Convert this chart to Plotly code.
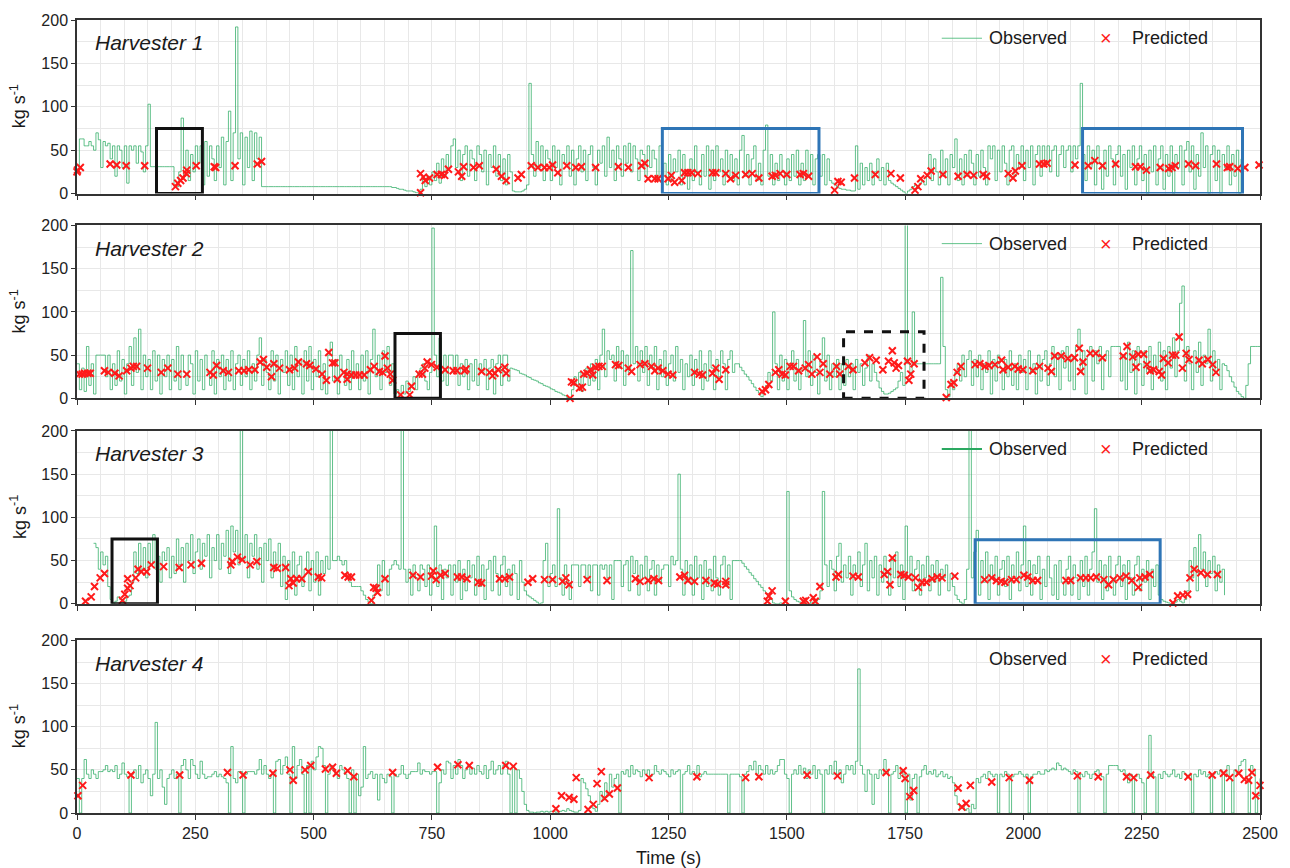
import plotly.graph_objects as go

# ---------------- data ----------------
T_STEP = 5  # sampling interval of the observed series (s)

obs1 = [
    25,63,63,55,55,60,55,50,70,62,30,60,55,58,40,55,20,55,50,30,
    55,12,55,50,55,35,55,48,25,55,103,31,31,31,31,31,31,31,31,31,
    31,8,8,25,87,20,50,15,45,25,55,35,55,10,60,20,55,40,15,55,
    30,65,10,60,95,15,70,192,40,70,10,65,30,72,15,70,40,65,8,8,
    8,8,8,8,8,8,8,8,8,8,8,8,8,8,8,8,8,8,8,8,
    8,8,8,8,8,8,8,8,8,8,8,8,8,8,8,8,8,8,8,8,
    8,8,8,8,8,8,8,8,8,8,8,8,8,7,7,6,5,5,4,3,
    3,3,2,1,1,5,18,8,20,10,25,15,35,12,40,20,45,30,55,63,
    30,50,15,45,55,20,50,40,15,55,45,25,50,10,45,30,55,20,45,15,
    40,10,45,25,3,2,2,2,3,5,10,127,45,20,60,30,55,15,50,40,
    15,55,30,50,10,45,35,55,20,50,10,40,55,25,50,15,45,55,30,10,
    50,35,55,20,65,30,50,15,55,40,20,55,35,58,25,55,40,15,50,45,
    20,55,30,50,40,15,55,20,35,10,45,15,40,25,50,10,45,20,5,40,
    15,55,25,10,45,20,55,5,50,15,55,25,40,10,50,20,45,15,40,10,
    50,67,20,45,10,40,55,15,35,10,50,79,20,45,10,35,15,45,25,10,
    40,15,45,20,50,10,35,15,50,20,45,10,40,45,20,45,10,40,15,12,
    10,8,6,5,5,4,4,3,3,55,5,35,10,30,15,35,10,25,40,15,
    30,10,35,15,12,10,8,6,4,2,0,3,5,8,10,6,12,15,10,20,
    45,15,40,25,10,50,20,40,10,45,30,63,15,40,10,45,20,50,35,10,
    45,20,50,30,10,55,40,55,15,50,25,55,35,10,50,55,20,45,30,55,
    15,50,30,55,10,45,55,20,55,35,55,25,50,55,20,45,55,30,50,55,
    25,55,40,55,127,45,15,55,30,50,10,55,35,5,50,20,55,40,10,45,
    55,20,45,5,50,30,55,10,40,55,15,45,0,50,25,55,10,40,55,5,
    45,20,55,0,45,30,55,10,50,60,25,55,5,45,20,70,30,55,0,45,
    55,15,50,0,45,30,55,10,45,20,50,0,40,None,None,None,None,None,None,None,
    None,
]

obs2 = [
    40,10,35,8,60,15,40,5,50,50,50,50,25,50,10,40,15,55,20,45,
    5,40,60,15,70,30,80,10,50,25,45,10,55,20,50,5,45,25,50,10,
    45,20,60,10,50,30,15,50,40,5,55,20,45,10,50,30,15,55,5,45,
    25,50,10,45,20,55,10,40,50,15,45,25,55,10,40,20,50,70,15,45,
    30,10,55,20,50,5,45,30,55,15,50,10,60,25,45,5,55,20,60,10,
    45,25,55,10,40,5,50,65,20,45,5,50,30,15,45,10,55,25,40,10,
    50,20,55,5,45,80,25,50,10,55,30,60,15,40,5,10,3,15,5,20,
    8,15,25,10,30,35,40,20,10,30,197,50,25,70,20,50,15,50,50,30,
    50,15,40,25,45,10,40,20,45,15,40,30,45,10,35,45,5,40,50,15,
    50,50,20,35,34,33,32,29,28,27,25,24,22,21,20,18,17,15,14,13,
    11,10,8,7,6,4,3,1,0,10,25,15,30,8,25,35,15,40,20,45,
    10,50,80,25,55,45,50,20,60,35,55,15,50,30,171,40,60,20,55,30,
    60,15,50,35,60,10,45,25,55,15,40,50,20,60,30,45,10,40,25,50,
    15,45,30,55,10,40,20,55,35,10,45,25,55,40,10,45,55,30,40,40,
    36,32,28,25,21,17,13,9,6,2,10,15,30,20,100,40,10,50,20,45,
    10,40,55,20,45,10,35,90,25,55,15,50,30,5,45,70,20,50,10,40,
    25,45,10,40,15,45,25,40,10,45,30,40,15,35,50,20,40,30,20,12,
    8,5,5,6,8,10,12,20,30,15,230,40,30,100,40,40,40,40,40,40,
    40,40,40,40,40,140,60,10,2,20,10,30,40,20,50,25,45,55,15,45,
    25,50,10,40,30,55,5,45,20,50,35,10,45,25,55,15,40,10,50,30,
    45,10,55,30,40,5,50,20,45,55,15,40,60,25,50,10,55,35,60,20,
    50,10,60,80,30,55,5,50,60,20,55,40,60,10,45,55,25,60,60,60,
    60,20,50,10,65,30,55,5,60,40,15,55,30,60,10,50,35,65,20,55,
    10,60,35,70,25,55,110,130,20,60,40,10,55,30,65,15,50,40,80,20,
    55,30,45,10,40,38,32,25,19,13,8,5,2,0,15,40,60,60,60,60,
    60,
]

obs3 = [
    None,None,None,None,None,None,None,70,65,40,60,45,55,20,5,0,3,8,5,2,
    3,8,10,25,60,35,70,40,65,30,70,45,80,40,55,25,60,50,65,30,
    55,35,75,45,65,25,70,50,80,35,60,75,40,70,55,80,30,65,50,80,
    40,70,55,85,35,90,60,85,45,230,50,80,30,70,55,80,40,65,25,70,
    50,75,30,60,45,70,20,55,5,50,30,60,10,45,55,20,40,60,15,50,
    25,60,10,50,35,55,40,230,50,50,55,50,45,50,30,25,20,20,20,20,
    15,10,5,2,0,10,20,45,15,50,30,10,40,45,50,45,40,230,40,25,
    40,10,45,30,15,45,40,20,45,10,35,90,20,45,5,40,30,45,10,45,
    25,50,5,40,15,50,30,45,10,55,20,45,5,40,50,15,55,35,10,45,
    55,20,40,10,45,35,5,50,25,15,10,8,6,4,2,0,1,50,70,20,
    35,45,20,110,30,10,45,25,5,45,45,45,20,45,45,30,45,15,45,45,
    10,45,40,45,30,45,5,50,50,50,20,45,50,15,55,35,50,10,45,30,
    55,15,40,50,10,45,25,40,45,45,20,55,45,50,150,40,10,50,25,45,
    10,55,30,45,5,50,20,40,15,55,30,10,45,55,20,45,5,50,50,50,
    50,47,43,40,36,33,29,26,22,19,15,12,8,5,1,0,0,1,0,2,
    130,15,8,5,3,2,1,0,1,0,2,0,3,5,15,130,45,20,50,40,
    15,55,70,25,45,30,55,10,45,35,60,20,45,70,15,50,30,55,10,45,
    25,55,35,10,50,30,60,20,45,5,90,30,55,15,40,50,10,45,30,55,
    15,45,25,50,10,40,30,45,15,35,20,10,5,2,0,5,40,230,30,60,
    85,10,50,25,60,5,45,30,55,10,40,50,20,55,5,45,30,60,15,45,
    90,20,50,10,45,35,55,5,40,20,55,30,10,45,5,50,25,10,40,55,
    10,45,30,5,50,20,55,10,40,60,110,25,50,5,45,15,55,30,10,45,
    55,20,45,5,50,30,10,45,55,15,40,25,50,5,40,20,45,10,5,3,
    2,1,0,0,2,5,3,1,5,15,50,30,65,15,80,40,60,20,50,35,
    55,15,45,25,40,10,None,None,None,None,None,None,None,None,None,None,None,None,None,None,
    None,
]

obs4 = [
    40,0,40,62,45,40,50,45,40,48,48,50,55,48,50,48,55,40,45,58,
    45,42,0,45,50,40,55,35,45,50,40,20,45,105,40,50,30,10,40,45,
    50,40,45,0,55,62,50,40,62,55,45,40,60,45,40,42,42,45,48,42,
    45,42,40,35,0,77,40,35,48,48,0,45,48,48,48,45,50,62,45,55,
    45,40,45,0,60,62,45,55,65,45,0,77,40,55,62,45,0,55,0,60,
    50,65,77,75,55,0,45,55,50,45,40,55,50,45,40,0,50,0,45,20,
    30,77,40,45,48,40,45,15,45,40,35,45,42,0,45,42,45,55,45,40,
    45,48,48,48,58,45,50,48,48,45,48,48,0,35,50,45,60,58,40,55,
    45,62,55,40,50,55,45,52,45,55,48,45,55,40,50,60,45,50,55,45,
    55,60,45,0,55,0,50,40,25,10,3,1,1,0,1,1,2,1,2,1,
    2,2,1,1,2,3,2,5,3,2,1,1,3,40,35,28,20,12,5,2,
    10,25,15,35,20,45,30,40,45,0,48,45,50,42,55,45,50,48,42,50,
    45,50,42,45,55,48,45,50,48,45,42,50,45,48,50,0,45,48,55,45,
    48,45,55,42,45,48,45,45,45,45,45,45,45,45,45,0,45,45,45,45,
    42,0,45,48,55,50,60,45,55,50,45,55,45,50,45,48,55,62,62,45,
    40,0,45,50,45,55,45,52,40,50,45,55,40,50,45,0,50,45,55,45,
    60,45,50,35,45,55,50,55,45,60,167,55,45,25,50,45,10,45,40,50,
    45,62,50,0,45,48,55,40,50,45,0,45,15,40,45,0,42,50,55,45,
    48,45,50,42,45,48,42,45,40,42,35,20,10,5,8,3,5,0,10,5,
    40,35,42,45,40,48,45,42,45,0,45,42,48,45,0,42,45,45,48,45,
    42,45,0,42,45,45,48,45,45,50,48,50,52,50,58,55,50,52,50,48,
    45,50,48,0,45,42,48,45,40,45,48,50,45,42,0,45,55,55,55,55,
    50,48,50,45,35,45,0,42,45,40,35,0,40,90,45,42,0,45,40,48,
    45,42,45,50,42,45,40,48,45,42,45,0,45,42,50,45,48,42,45,0,
    45,48,45,50,0,45,55,40,0,50,45,55,60,62,40,0,55,50,0,20,
    40,
]

pred1 = [(0,25),(1,27),(7,30),(70,34),(84,33),(104,32),(143,32),(208,8),(213,12),(219,15),
         (224,18),(231,23),(232,27),(252,32),(290,31),(293,30),(334,32),(381,34),(390,37),(726,1),
         (726,23),(732,19),(736,15),(745,18),(761,22),(770,22),(777,21),(785,28),(806,25),(813,20),
         (817,31),(838,30),(850,32),(886,28),(897,20),(907,15),(932,18),(939,22),(960,32),(974,30),
         (988,30),(998,30),(1005,33),(1016,24),(1035,32),(1054,30),(1066,31),(1096,30),(1144,31),(1165,30),
         (1193,32),(1200,35),(1207,17),(1221,17),(1228,17),(1249,17),(1256,21),(1263,13),(1278,15),(1284,24),
         (1291,24),(1299,24),(1312,23),(1343,24),(1350,24),(1371,23),(1381,17),(1392,21),(1413,22),(1427,23),
         (1441,18),(1469,20),(1476,21),(1486,23),(1500,22),(1528,22),(1535,23),(1546,20),(1601,4),(1608,14),
         (1615,13),(1643,18),(1687,22),(1720,23),(1740,18),(1771,4),(1777,8),(1783,17),(1797,21),(1805,26),
         (1830,22),(1862,20),(1881,22),(1895,21),(1915,22),(1922,20),(1968,23),(1978,18),(1983,26),(1997,32),
         (2034,34),(2043,34),(2050,35),(2109,33),(2137,32),(2151,38),(2167,32),(2195,34),(2237,31),(2247,31),
         (2260,27),(2289,30),(2307,29),(2314,30),(2321,32),(2349,34),(2364,32),(2408,34),(2431,30),(2436,31),
         (2453,29),(2468,30),(2498,33)]

pred2 = [(5,28),(11,28),(16,29),(23,29),(28,29),(58,32),(66,30),(80,29),(89,26),(105,32),
         (114,35),(119,37),(126,37),(149,35),(178,30),(192,35),(213,28),(232,28),(281,30),(288,27),
         (295,38),(309,32),(320,30),(342,32),(353,32),(363,33),(376,33),(387,42),(394,45),(401,36),
         (411,25),(416,40),(428,35),(449,33),(460,35),(468,42),(485,40),(492,38),(505,34),(518,28),
         (527,21),(532,53),(540,41),(545,41),(550,22),(564,30),(571,28),(571,22),(580,27),(589,27),
         (597,27),(607,27),(620,33),(628,37),(639,31),(646,30),(651,49),(656,35),(662,28),(667,21),
         (684,4),(703,4),(707,14),(723,28),(730,28),(735,35),(740,42),(749,39),(761,36),(778,33),
         (795,32),(803,32),(819,32),(822,34),(855,31),(872,30),(878,26),(883,29),(890,33),(904,36),
         (907,29),(1042,0),(1045,19),(1050,18),(1062,12),(1068,13),(1071,28),(1078,29),(1085,33),(1090,27),
         (1096,36),(1103,37),(1110,37),(1138,39),(1145,38),(1165,35),(1172,31),(1190,39),(1200,40),(1214,37),
         (1221,32),(1228,35),(1238,32),(1249,28),(1259,27),(1305,30),(1315,28),(1322,27),(1343,29),(1350,35),
         (1357,22),(1371,33),(1448,8),(1455,10),(1462,16),(1476,30),(1483,33),(1490,28),(1497,27),(1507,37),
         (1514,37),(1525,32),(1539,35),(1546,39),(1553,28),(1564,48),(1570,30),(1577,40),(1591,28),(1605,37),
         (1612,28),(1630,37),(1640,33),(1665,41),(1675,47),(1689,44),(1703,33),(1715,43),(1723,55),(1727,41),
         (1731,35),(1736,38),(1755,43),(1758,21),(1762,28),(1769,40),(1837,1),(1847,16),(1853,18),(1860,30),
         (1868,37),(1898,39),(1908,40),(1919,37),(1927,38),(1940,39),(1954,44),(1957,33),(1968,36),(1982,37),
         (1989,34),(1999,33),(2020,32),(2034,37),(2052,35),(2059,31),(2066,49),(2080,49),(2094,46),(2108,47),
         (2118,58),(2121,31),(2126,42),(2141,52),(2153,52),(2167,47),(2211,49),(2219,60),(2231,48),(2238,36),
         (2243,51),(2254,51),(2261,39),(2268,32),(2275,33),(2287,31),(2292,27),(2296,46),(2306,41),(2315,50),
         (2322,50),(2329,71),(2336,35),(2344,52),(2350,45),(2371,44),(2378,40),(2390,45),(2400,39),(2407,30)]

pred3 = [(18,3),(30,8),(37,20),(49,30),(58,35),(96,4),(101,11),(107,18),(112,21),(107,29),
         (124,30),(129,40),(136,37),(147,37),(157,45),(183,43),(216,42),(241,45),(263,47),(325,45),
         (328,49),(339,54),(349,51),(366,45),(380,49),(416,42),(423,41),(441,42),(448,21),(452,29),
         (457,24),(464,29),(475,29),(489,37),(510,31),(517,30),(566,33),(573,31),(580,31),(622,4),
         (627,19),(632,18),(635,13),(651,29),(710,33),(726,31),(749,32),(753,38),(759,28),(768,33),
         (778,35),(804,31),(813,31),(824,29),(848,25),(855,24),(893,29),(904,29),(914,31),(953,25),
         (963,29),(988,28),(1005,28),(1026,26),(1033,30),(1040,22),(1078,28),(1120,27),(1180,29),(1190,26),
         (1207,27),(1219,29),(1229,27),(1274,31),(1284,33),(1291,27),(1305,26),(1329,27),(1347,24),(1354,23),
         (1371,26),(1371,22),(1459,3),(1462,9),(1469,15),(1497,3),(1535,3),(1540,4),(1556,7),(1560,3),
         (1570,20),(1604,31),(1609,34),(1640,32),(1651,31),(1706,34),(1713,37),(1718,22),(1723,53),(1741,34),
         (1748,33),(1757,31),(1772,30),(1778,19),(1786,25),(1795,25),(1807,29),(1818,31),(1828,30),(1855,32),
         (1918,28),(1933,30),(1943,27),(1953,26),(1961,25),(1975,28),(1985,28),(2001,33),(2009,31),(2020,27),
         (2030,27),(2090,27),(2100,27),(2121,30),(2132,30),(2142,30),(2154,31),(2170,28),(2180,22),(2190,28),
         (2204,30),(2217,32),(2229,27),(2243,19),(2246,30),(2257,31),(2267,34),(2316,1),(2326,9),(2337,10),
         (2347,11),(2352,30),(2361,40),(2375,36),(2389,34),(2410,34)]

pred4 = [(2,20),(12,32),(114,44),(217,44),(318,47),(351,44),(414,46),(450,50),(457,38),(482,50),
         (494,55),(525,51),(540,53),(548,46),(572,49),(585,42),(667,47),(762,53),(805,56),(829,55),
         (906,55),(922,54),(1012,5),(1024,20),(1040,18),(1050,16),(1055,41),(1080,4),(1091,10),(1099,34),
         (1108,48),(1115,17),(1125,22),(1142,29),(1209,41),(1310,42),(1413,41),(1441,42),(1543,44),(1607,43),
         (1710,47),(1746,49),(1750,40),(1760,19),(1768,26),(1862,29),(1870,7),(1879,11),(1888,32),(1933,36),
         (1970,41),(2013,38),(2114,43),(2158,42),(2218,42),(2233,41),(2269,44),(2348,42),(2399,44),(2423,46),
         (2436,41),(2455,46),(2467,39),(2476,38),(2483,47),(2491,20),(2500,32)]

panel_names = ["Harvester 1", "Harvester 2", "Harvester 3", "Harvester 4"]
x_ticks = [0, 250, 500, 750, 1000, 1250, 1500, 1750, 2000, 2250, 2500]
y_ticks = [0, 50, 100, 150, 200]

# highlighted windows: (panel, t_start, t_end, top, colour, dash)
boxes = [
    (0, 168, 265, 75, "#111111", "solid"),
    (0, 1237, 1568, 75, "#2e75b6", "solid"),
    (0, 2125, 2463, 75, "#2e75b6", "solid"),
    (1, 672, 768, 75, "#111111", "solid"),
    (1, 1620, 1790, 77, "#111111", "dash"),
    (2, 74, 170, 75, "#111111", "solid"),
    (2, 1898, 2289, 74, "#2e75b6", "solid"),
]

# ---------------- figure ----------------
obs_all = [obs1, obs2, obs3, obs4]
pred_all = [pred1, pred2, pred3, pred4]
for o in obs_all:
    assert len(o) == 501, len(o)

FONT = "Liberation Sans, Arial, sans-serif"
GREEN = "rgba(45,172,100,0.75)"
GRID = "#e8e8e8"
AX = "#333333"
domains = [(0.7811, 1.0), (0.5229, 0.7409), (0.2638, 0.4818), (0.0, 0.2176)]


def py(k, frac):
    d0, d1 = domains[k]
    return d0 + frac * (d1 - d0)


fig = go.Figure()
annotations = []
shapes = []
for k in range(4):
    xa = "x" if k == 0 else f"x{k+1}"
    ya = "y" if k == 0 else f"y{k+1}"
    t_obs = [i * T_STEP for i in range(len(obs_all[k]))]
    fig.add_trace(go.Scatter(
        x=t_obs, y=obs_all[k], mode="lines", xaxis=xa, yaxis=ya,
        line=dict(color=GREEN, width=1, shape="hv"), showlegend=False,
        hoverinfo="skip"))
    pt = [p[0] for p in pred_all[k]]
    pv = [p[1] for p in pred_all[k]]
    fig.add_trace(go.Scatter(
        x=pt, y=pv, mode="markers", xaxis=xa, yaxis=ya, cliponaxis=False,
        marker=dict(symbol="x-thin", size=7, line=dict(width=2, color="#ff1a1a")),
        showlegend=False))

    xname = "xaxis" if k == 0 else f"xaxis{k+1}"
    yname = "yaxis" if k == 0 else f"yaxis{k+1}"
    fig.layout[xname] = dict(
        range=[0, 2500], tickmode="array", tickvals=x_ticks,
        ticks="outside", ticklen=5, tickcolor=AX, tickwidth=1.2,
        showticklabels=(k == 3), tickfont=dict(size=16, color="#222", family=FONT),
        showline=True, linecolor=AX, linewidth=1.5, mirror=True,
        showgrid=True, gridcolor=GRID, gridwidth=1, zeroline=False,
        minor=dict(dtick=50, tick0=0, showgrid=True, gridcolor=GRID, gridwidth=1),
        anchor=ya,
    )
    fig.layout[yname] = dict(
        range=[0, 200], tickmode="array", tickvals=y_ticks, domain=list(domains[k]),
        ticks="outside", ticklen=4, tickcolor=AX, tickwidth=1.2,
        tickfont=dict(size=16, color="#222", family=FONT),
        showline=True, linecolor=AX, linewidth=1.5, mirror=True,
        showgrid=True, gridcolor=GRID, gridwidth=1, zeroline=False,
        minor=dict(dtick=25, tick0=0, showgrid=True, gridcolor=GRID, gridwidth=1),
        anchor=xa,
    )

    # panel title
    annotations.append(dict(
        text=f"<i>{panel_names[k]}</i>", xref="paper", yref="paper",
        x=0.0135, y=py(k, 0.868), xanchor="left", yanchor="middle", showarrow=False,
        font=dict(size=21, color="#1a1a1a", family=FONT)))
    # y-axis title
    annotations.append(dict(
        text="kg s<sup>-1</sup>", xref="paper", yref="paper",
        x=-0.0494, y=py(k, 0.5), xanchor="center",
        yanchor="middle", textangle=-90, showarrow=False,
        font=dict(size=18, color="#1a1a1a", family=FONT)))
    # legend (drawn per panel)
    annotations.append(dict(
        text="Observed", xref="paper", yref="paper",
        x=0.769, y=py(k, 0.895), xanchor="left", yanchor="middle", showarrow=False,
        font=dict(size=18, color="#1a1a1a", family=FONT)))
    annotations.append(dict(
        text="Predicted", xref="paper", yref="paper",
        x=0.890, y=py(k, 0.895), xanchor="left", yanchor="middle", showarrow=False,
        font=dict(size=18, color="#1a1a1a", family=FONT)))
    annotations.append(dict(
        text="×", xref="paper", yref="paper",
        x=0.8694, y=py(k, 0.895), xanchor="center", yanchor="middle", showarrow=False,
        font=dict(size=20, color="#ff1a1a", family=FONT)))
    if k != 3:
        shapes.append(dict(
            type="line", xref="paper", yref="paper",
            x0=0.731, x1=0.765, y0=py(k, 0.895), y1=py(k, 0.895),
            line=dict(color=("#2aa860" if k == 2 else "rgba(60,180,110,0.8)"),
                      width=(2 if k == 2 else 1))))

for (k, t0, t1, top, col, dash) in boxes:
    xa = "x" if k == 0 else f"x{k+1}"
    ya = "y" if k == 0 else f"y{k+1}"
    shapes.append(dict(type="rect", xref=xa, yref=ya, x0=t0, x1=t1, y0=0, y1=top,
                       line=dict(color=col, width=3, dash=dash), fillcolor="rgba(0,0,0,0)"))

annotations.append(dict(
    text="Time (s)", xref="paper", yref="paper", x=0.5, y=-0.0566,
    xanchor="center", yanchor="middle", showarrow=False,
    font=dict(size=18, color="#1a1a1a", family=FONT)))

fig.update_layout(
    width=1290, height=868,
    margin=dict(l=77, r=19, t=18, b=55),
    paper_bgcolor="white", plot_bgcolor="white",
    font=dict(family=FONT, color="#222"),
    showlegend=False,
    annotations=annotations,
    shapes=shapes,
)

fig.write_html("out.html")
